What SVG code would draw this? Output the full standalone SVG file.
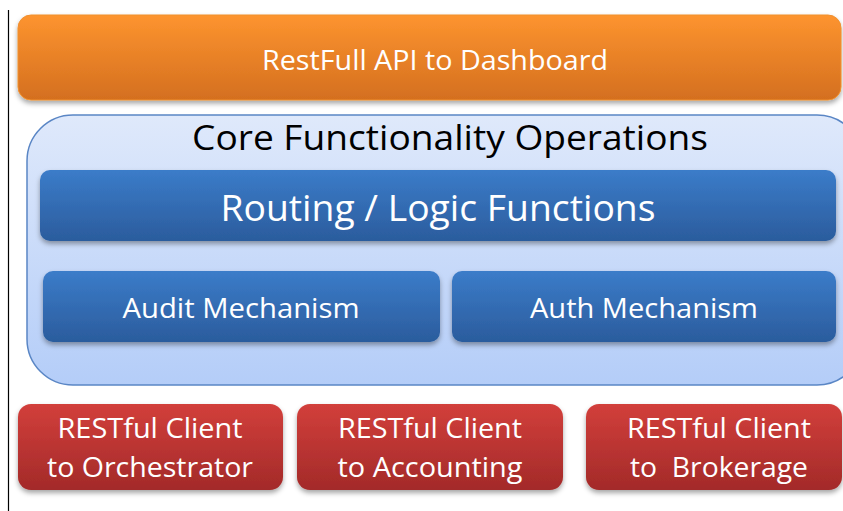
<svg xmlns="http://www.w3.org/2000/svg" width="843" height="511" viewBox="0 0 843 511">
<defs>
<linearGradient id="gOrange" x1="0" y1="0" x2="0" y2="1"><stop offset="0" stop-color="#fd942f"/><stop offset="1" stop-color="#d46f1f"/></linearGradient>
<linearGradient id="gCore" x1="0" y1="0" x2="0" y2="1"><stop offset="0" stop-color="#dfe9fb"/><stop offset="1" stop-color="#b4cdf8"/></linearGradient>
<linearGradient id="gBlue" x1="0" y1="0" x2="0" y2="1"><stop offset="0" stop-color="#3b7cc9"/><stop offset="1" stop-color="#2b5c9d"/></linearGradient>
<linearGradient id="gRed" x1="0" y1="0" x2="0" y2="1"><stop offset="0" stop-color="#d23f3b"/><stop offset="1" stop-color="#a32a29"/></linearGradient>
<filter id="sh" x="-5%" y="-10%" width="110%" height="130%"><feDropShadow dx="0" dy="3" stdDeviation="2.5" flood-color="#000" flood-opacity="0.35"/></filter>
</defs>
<style>
text{font-family:"Open Sans","Noto Sans",sans-serif;text-anchor:middle}
.w{fill:#ffffff}
.k{fill:#000000}
</style>
<rect x="0" y="0" width="843" height="511" fill="#ffffff"/>
<line x1="8.5" y1="10" x2="8.5" y2="511" stroke="#000" stroke-width="1.2"/>
<g id="dashboard-api">
<rect x="18" y="15" width="823" height="85" rx="13" fill="url(#gOrange)" stroke="#f0902f" stroke-width="1" filter="url(#sh)"/>
<text class="w" x="435" y="70" font-size="28" textLength="346" lengthAdjust="spacingAndGlyphs">RestFull API to Dashboard</text>
</g>
<g id="core">
<rect x="27" y="115" width="836" height="270" rx="46" fill="url(#gCore)" stroke="#5a86c5" stroke-width="1.5"/>
<text class="k" x="450" y="150" font-size="35" textLength="516" lengthAdjust="spacingAndGlyphs">Core Functionality Operations</text>
</g>
<g id="routing">
<rect x="40" y="170" width="796" height="71" rx="10" fill="url(#gBlue)" filter="url(#sh)"/>
<text class="w" x="438" y="221" font-size="36" textLength="435" lengthAdjust="spacingAndGlyphs">Routing / Logic Functions</text>
</g>
<g id="audit">
<rect x="43" y="271" width="397" height="71" rx="10" fill="url(#gBlue)" filter="url(#sh)"/>
<text class="w" x="241" y="318" font-size="28" textLength="237" lengthAdjust="spacingAndGlyphs">Audit Mechanism</text>
</g>
<g id="auth">
<rect x="452" y="271" width="384" height="71" rx="10" fill="url(#gBlue)" filter="url(#sh)"/>
<text class="w" x="644" y="318" font-size="28" textLength="228" lengthAdjust="spacingAndGlyphs">Auth Mechanism</text>
</g>
<g id="client-orchestrator">
<rect x="18" y="404" width="265" height="86" rx="13" fill="url(#gRed)" filter="url(#sh)"/>
<text class="w" x="150" y="438" font-size="27" textLength="185" lengthAdjust="spacingAndGlyphs">RESTful Client</text>
<text class="w" x="150" y="477" font-size="27" textLength="206" lengthAdjust="spacingAndGlyphs">to Orchestrator</text>
</g>
<g id="client-accounting">
<rect x="297" y="404" width="266" height="86" rx="13" fill="url(#gRed)" filter="url(#sh)"/>
<text class="w" x="430" y="438" font-size="27" textLength="184" lengthAdjust="spacingAndGlyphs">RESTful Client</text>
<text class="w" x="430" y="477" font-size="27" textLength="185" lengthAdjust="spacingAndGlyphs">to Accounting</text>
</g>
<g id="client-brokerage">
<rect x="586" y="404" width="256" height="86" rx="13" fill="url(#gRed)" filter="url(#sh)"/>
<text class="w" x="719" y="438" font-size="27" textLength="184" lengthAdjust="spacingAndGlyphs">RESTful Client</text>
<text class="w" x="719" y="477" font-size="27" textLength="178" lengthAdjust="spacingAndGlyphs" xml:space="preserve">to  Brokerage</text>
</g>
<g id="connectors"/>
</svg>
